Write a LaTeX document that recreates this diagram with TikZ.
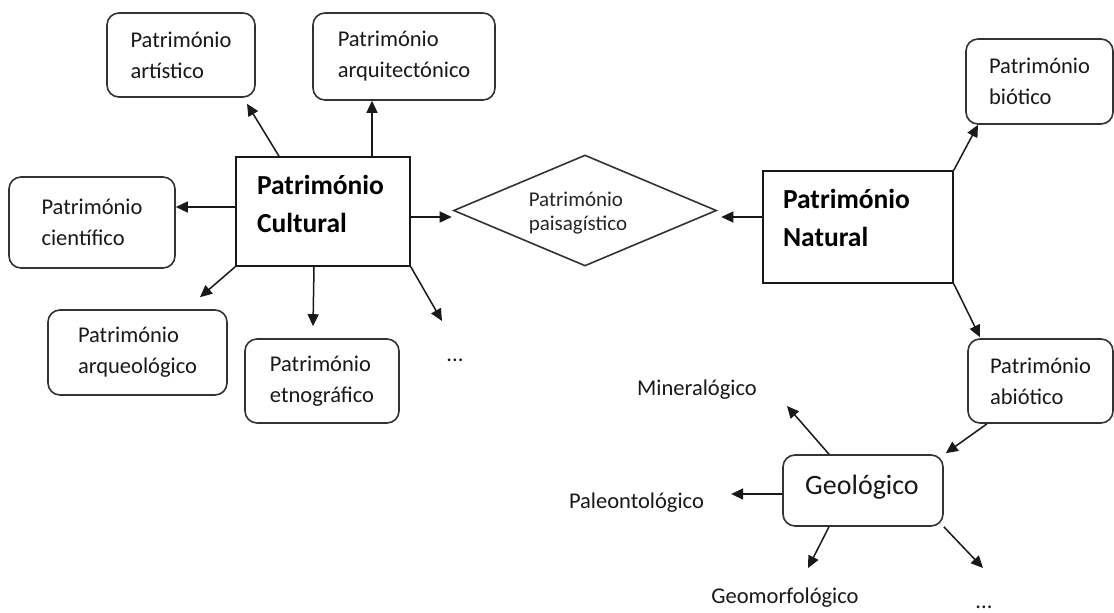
\documentclass[tikz,border=0pt]{standalone}
\usepackage{fontspec}
\setmainfont{Carlito}
\usetikzlibrary{shapes.geometric,arrows.meta,calc}
\begin{document}
\begin{tikzpicture}[x=1pt,y=-1pt,
  rbox/.style={draw=black!80, line width=1.6pt, rounded corners=12pt, inner sep=0pt, align=left,
    font=\fontsize{22.5}{31}\selectfont, text=black!90},
  sbox/.style={draw=black!90, line width=1.6pt, inner sep=0pt},
  btext/.style={font=\fontsize{27.5}{38}\selectfont\bfseries, align=left, inner sep=0pt, text=black},
  dtext/.style={font=\fontsize{21}{24}\selectfont, align=left, inner sep=0pt, text=black!85},
  ltext/.style={font=\fontsize{22.5}{27}\selectfont, inner sep=0pt, text=black!90},
  arr/.style={-{Triangle[length=12pt,width=11pt]}, line width=1.5pt, draw=black!90},
]
\useasboundingbox[fill=white] (0,0) rectangle (1114,613);

% cultural side
\node[sbox, minimum width=174pt, minimum height=109pt] (cult) at (323,211.5) {};
\node[btext] (cultT) at (320.5,204) {Património\\Cultural};
\node[rbox, minimum width=148pt, minimum height=84pt] (art) at (181,55) {Património\\artístico};
\node[rbox, minimum width=182pt, minimum height=87pt] (arq) at (404,56.5) {Património\\arquitectónico};
\node[rbox, minimum width=166pt, minimum height=91pt] (cien) at (92,222.5) {Património\\científico};
\node[rbox, minimum width=179pt, minimum height=85pt] (arqueo) at (137.5,352.5) {Património\\arqueológico};
\node[rbox, minimum width=154pt, minimum height=84pt] (etno) at (322,381) {Património\\etnográfico};
\node[ltext] (dots1) at (455,360) {...};

% paisagistico
\node[draw=black!80, line width=1.6pt, diamond, minimum width=263pt, minimum height=111pt, inner sep=0pt] (dia) at (585,210.5) {};
\node[dtext] (diaT) at (578,213) {Património\\paisagístico};

% natural side
\node[sbox, minimum width=190pt, minimum height=112pt] (nat) at (858,227) {};
\node[btext] (natT) at (846.5,218) {Património\\Natural};
\node[rbox, minimum width=147pt, minimum height=85pt] (bio) at (1039.5,81.5) {Património\\biótico};
\node[rbox, minimum width=145pt, minimum height=84pt] (abio) at (1040.5,381) {Património\\abiótico};
\node[rbox, minimum width=160pt, minimum height=71pt] (geo) at (863,490.5) {};
\node[font=\fontsize{28}{32}\selectfont, inner sep=0pt, text=black!90] (geoT) at (862,487) {Geológico};
\node[ltext] (mine) at (697,390) {Mineralógico};
\node[ltext] (paleo) at (636.5,503) {Paleontológico};
\node[ltext] (geom) at (785,598) {Geomorfológico};
\node[ltext] (dots2) at (984,607) {...};

% connectors
\draw[arr] ([shift={(-44,0)}]cult.north) -- ([shift={(66,6)}]art.south);
\draw[arr] ([shift={(49,0)}]cult.north) -- ([shift={(-32,0)}]arq.south);
\draw[arr] ([shift={(0,-4.5)}]cult.west) -- ([shift={(0,-15.5)}]cien.east);
\draw[arr] (cult.south west) -- ([shift={(62.5,-12)}]arqueo.north);
\draw[arr] ([shift={(-9,0)}]cult.south) -- ([shift={(-9,-12)}]etno.north);
\draw[arr] (cult.south east) -- ([shift={(-13,-39)}]dots1.center);
\draw[arr] ([shift={(0,5.5)}]cult.east) -- ([shift={(-1,6.5)}]dia.west);
\draw[arr] ([shift={(0,-10)}]nat.west) -- ([shift={(4,6.5)}]dia.east);
\draw[arr] (nat.north east) -- ([shift={(-61.5,0)}]bio.south);
\draw[arr] (nat.south east) -- ([shift={(-60.5,-1)}]abio.north);
\draw[arr] ([shift={(-53.5,0)}]abio.south) -- ([shift={(2,-1)}]geo.north east);
\draw[arr] ([shift={(-34,0)}]geo.north) -- ([shift={(90,16)}]mine.center);
\draw[arr] ([shift={(0,3.5)}]geo.west) -- ([shift={(27,-9)}]paleo.east);
\draw[arr] ([shift={(-34,0)}]geo.south) -- ([shift={(23,-30)}]geom.center);
\draw[arr] (geo.south east) -- ([shift={(-1,-39)}]dots2.center);
\end{tikzpicture}
\end{document}
